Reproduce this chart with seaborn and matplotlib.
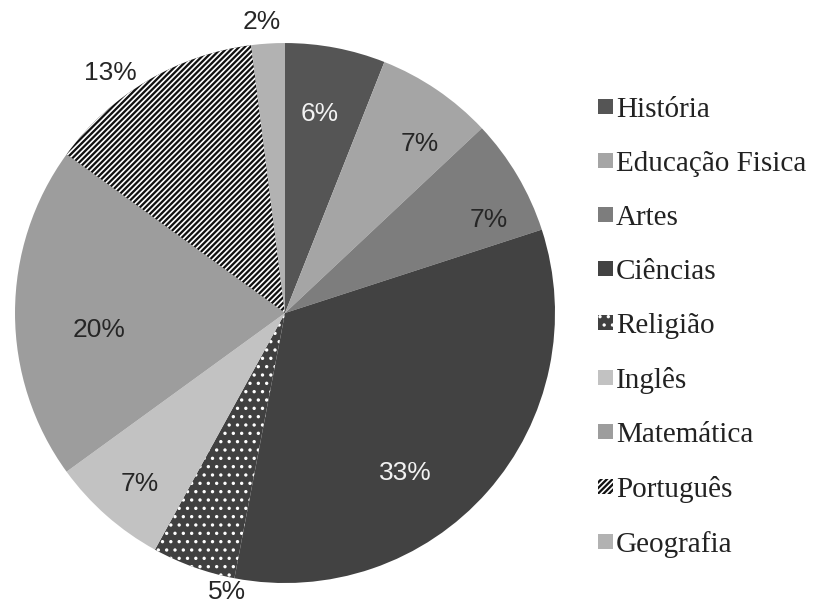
import matplotlib.pyplot as plt
import numpy as np
import seaborn as sns

subjects = ['História', 'Educação Fisica', 'Artes', 'Ciências', 'Religião',
            'Inglês', 'Matemática', 'Português', 'Geografia']
shares = [6, 7, 7, 33, 5, 7, 20, 13, 2]

grays = ['#555555', '#a5a5a5', '#7d7d7d', '#424242', '#404040',
         '#c2c2c2', '#9d9d9d', '#111111', '#b2b2b2']
hatches = [None, None, None, None, '..', None, None, '//////', None]
label_colors = ['#f2f2f2', '#262626', '#262626', '#f2f2f2', '#262626',
                '#262626', '#262626', '#262626', '#262626']
# where the percent labels sit (fraction of radius, angle shift in degrees)
label_radius = [0.75, 0.80, 0.83, 0.74, 1.055, 0.83, 0.69, 1.10, 1.08]
label_shift = [0.8, -4.3, -6.2, -11.7, 8, 1, 5.3, 5.5, 1]

sns.set_theme(style='white')
plt.rcParams['hatch.linewidth'] = 1.2

fig = plt.figure(figsize=(8.15, 6.07), dpi=100)
ax = fig.add_axes([0.0184, 0.0395, 0.6626, 0.8896])

wedges, _ = ax.pie(shares, colors=grays, startangle=90, counterclock=False,
                   wedgeprops={'linewidth': 0})
for w, h in zip(wedges, hatches):
    if h:
        w.set_hatch(h)
        w.set_edgecolor('white')
        w.set_linewidth(0)

total = sum(shares)
start = 90.0
for v, r, s, c in zip(shares, label_radius, label_shift, label_colors):
    mid = start - v / total * 360 / 2
    start -= v / total * 360
    ang = np.deg2rad(mid + s)
    ax.text(r * np.cos(ang), r * np.sin(ang), f'{v}%', ha='center', va='center',
            fontsize=19, color=c, family='Liberation Sans')
ax.set_aspect('equal')
ax.set_xlim(-1, 1)
ax.set_ylim(-1, 1)
ax.axis('off')

leg = fig.legend(wedges, subjects, loc='upper left', bbox_to_anchor=(0.72, 0.8595),
                 frameon=False, prop={'family': 'Liberation Serif', 'size': 21},
                 handlelength=0.5, handleheight=0.45, handletextpad=0.1,
                 labelspacing=0.96, borderaxespad=0)
for t in leg.get_texts():
    t.set_color('#222222')

fig.savefig('out.png', dpi=100)
